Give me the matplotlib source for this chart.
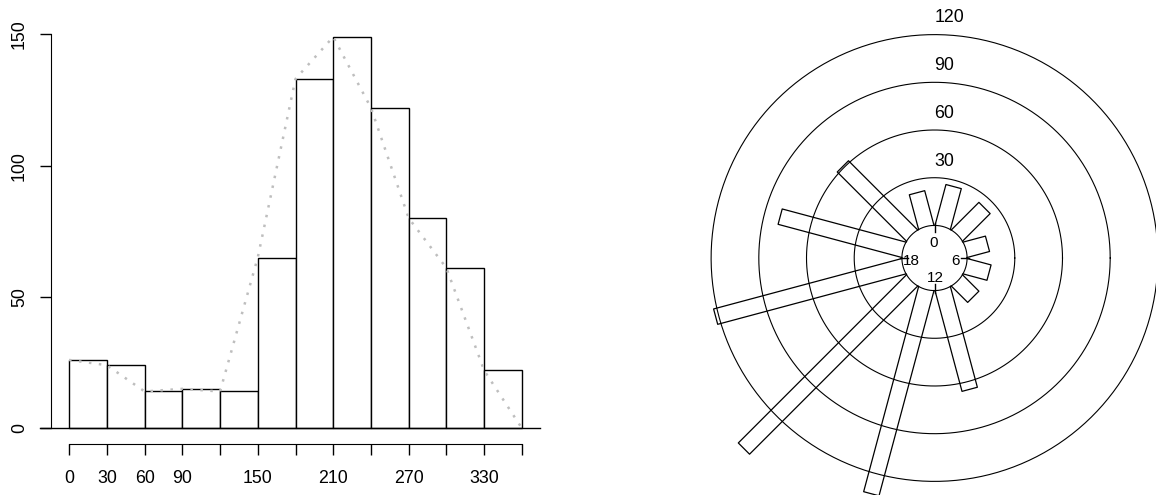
#Histogram of directions and a 24 hour rose diagram side by side

import numpy as np
import matplotlib
matplotlib.use('Agg')
import matplotlib.pyplot as plt

plt.rcParams['font.family'] = ['Liberation Sans', 'DejaVu Sans']

#Input data
breaks = [0, 30, 60, 90, 120, 150, 180, 210, 240, 270, 300, 330, 360]
counts = [26, 24, 14, 15, 14, 65, 133, 149, 122, 80, 61, 22]
x_labels = ['0', '30', '60', '90', '', '150', '', '210', '', '270', '', '330', '']
y_ticks = [0, 50, 100, 150]
ring_values = [30, 60, 90, 120]
hour_marks = [0, 6, 12, 18]

W, H = 1156, 495
fig = plt.figure(figsize=(W/100, H/100), dpi=100)

#left panel: histogram
ax = fig.add_axes([51/W, 1-444/H, (540-51)/W, (444-18.5)/H])
ax.bar(breaks[:-1], counts, width=30, align='edge', color='white',
       edgecolor='black', lw=1, zorder=2)
ax.plot(breaks, counts + [0], color='#bebebe', ls=(0, (1, 3)), lw=1.8, zorder=3)
ax.plot([-23, 374.4], [0, 0], color='black', lw=1, clip_on=False, zorder=4)

ax.set_xlim(-14.4, 374.4)
ax.set_ylim(-6, 156)
ax.set_xticks(breaks)
ax.set_xticklabels(x_labels)
ax.set_yticks(y_ticks)
ax.set_yticklabels([str(v) for v in y_ticks], rotation=90, va='center')
for s in ['top', 'right']:
    ax.spines[s].set_visible(False)
ax.spines['left'].set_bounds(0, 150)
ax.spines['bottom'].set_bounds(0, 360)
ax.tick_params(axis='both', length=8, width=1, labelsize=12.8, color='black')
ax.tick_params(axis='x', pad=11)
ax.tick_params(axis='y', pad=8.5)

#right panel: rose diagram
k = 1.59                     #pixels per count
cx, cy = 934.5, 258.0        #centre in pixels
R0 = 20.5                    #inner circle radius (count units)
hw = 5.0                     #half width of each bar
ax2 = fig.add_axes([700/W, 0, 456/W, 1])
ax2.set_xlim((700-cx)/k, (W-cx)/k)
ax2.set_ylim(-(H-cy)/k, cy/k)
ax2.axis('off')

t = np.linspace(0, 2*np.pi, 500)
for v in [0] + ring_values:
    r = R0 + v
    ax2.plot(r*np.cos(t), r*np.sin(t), color='black', lw=0.8, clip_on=False)
    if v > 0:
        ax2.text(0, r + 10.5, str(v), ha='left', va='center', fontsize=12.8)

r_in = np.sqrt(R0**2 - hw**2)
centres = np.radians(np.array(breaks[:-1]) + 15)
for phi, c in zip(centres, counts):
    u = np.array([np.sin(phi), np.cos(phi)])
    n = np.array([np.cos(phi), -np.sin(phi)])
    pts = np.array([r_in*u - hw*n, (R0+c)*u - hw*n,
                    (R0+c)*u + hw*n, r_in*u + hw*n])
    ax2.plot(pts[:, 0], pts[:, 1], color='black', lw=0.9, clip_on=False)

#hour ticks and labels on the inner circle
lab_off = [(-1, 15.3), (20.5, -2.7), (0.5, -20.3), (-23, -2.7)]
for h, (dx, dy) in zip(hour_marks, lab_off):
    a = np.radians(h/24*360)
    u = np.array([np.sin(a), np.cos(a)])
    ax2.plot([0.8*R0*u[0], 1.06*R0*u[0]], [0.8*R0*u[1], 1.06*R0*u[1]],
             color='black', lw=1)
    ax2.text(dx/k, dy/k, str(h), ha='center', va='center', fontsize=11)

plt.savefig('out.png', dpi=100)
